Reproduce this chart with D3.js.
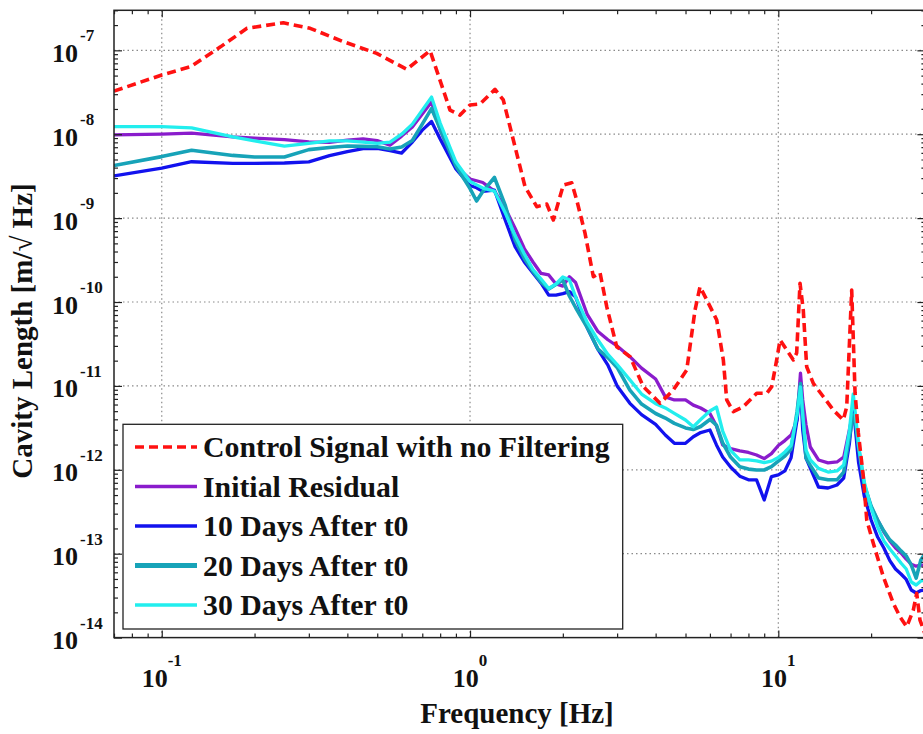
<!DOCTYPE html>
<html><head><meta charset="utf-8">
<script src="https://cdn.jsdelivr.net/npm/d3@7"></script>
<style>
body{margin:0;background:#fff;}
svg{display:block;}
text{font-family:"Liberation Serif","Times New Roman",serif;font-weight:bold;fill:#111;}
</style>
</head><body>
<svg id="chart" width="923" height="734"></svg>
<script>
// ---------- DATA ----------
const freq = [0.07, 0.1, 0.125, 0.17, 0.2, 0.25, 0.3, 0.35, 0.4, 0.45, 0.5, 0.55, 0.6, 0.65, 0.7, 0.75, 0.8, 0.9, 1.0, 1.05, 1.1, 1.2, 1.3, 1.4, 1.5, 1.6, 1.7, 1.8, 1.9, 2.0, 2.1, 2.2, 2.4, 2.6, 2.8, 3.0, 3.3, 3.6, 4.0, 4.3, 4.6, 5.0, 5.3, 5.6, 6.0, 6.3, 6.6, 7.0, 7.5, 8.0, 8.5, 9.0, 9.5, 10, 10.5, 11, 11.5, 11.8, 12.0, 12.3, 12.7, 13.5, 14.5, 15.5, 16.3, 17.0, 17.5, 17.8, 18.2, 19, 20, 21, 22, 23, 24, 25, 26, 27, 28, 29, 30];

const initialResidual = [9.8e-9, 1.0e-8, 1.03e-8, 9.3e-9, 9.0e-9, 8.6e-9, 8.1e-9, 8.0e-9, 8.5e-9, 8.8e-9,
  8.4e-9, 7.4e-9, 9.5e-9, 1.22e-8, 1.74e-8, 2.42e-8, 1.12e-8, 4.12e-9, 2.92e-9, 2.79e-9, 2.66e-9,
  2.10e-9, 1.32e-9, 7.6e-10, 4.34e-10, 3.0e-10, 2.19e-10, 2.10e-10, 1.64e-10, 1.55e-10, 2.0e-10,
  1.71e-10, 7.1e-11, 4.45e-11, 3.55e-11, 2.99e-11, 2.23e-11, 1.63e-11, 1.21e-11, 7.4e-12, 6.8e-12,
  6.8e-12, 5.9e-12, 5.45e-12, 4.7e-12, 3.33e-12, 1.98e-12, 1.79e-12, 1.68e-12, 1.61e-12, 1.50e-12,
  1.36e-12, 1.56e-12, 1.95e-12, 2.23e-12, 2.60e-12, 3.92e-12, 1.42e-11, 6.8e-12, 3.42e-12, 1.87e-12,
  1.31e-12, 1.21e-12, 1.24e-12, 1.42e-12, 2.98e-12, 5.16e-12, 3.42e-12, 1.72e-12, 6.6e-13, 3.6e-13,
  2.52e-13, 1.81e-13, 1.42e-13, 1.17e-13, 1.02e-13, 8.6e-14, 7.5e-14, 7.1e-14, 7.3e-14, 7.3e-14];

const days10 = [3.18e-9, 3.94e-9, 4.70e-9, 4.50e-9, 4.50e-9, 4.54e-9, 4.69e-9, 5.56e-9, 6.22e-9, 6.74e-9,
  6.76e-9, 6.36e-9, 5.97e-9, 8.07e-9, 1.12e-8, 1.42e-8, 8.77e-9, 3.85e-9, 2.45e-9, 2.30e-9, 2.08e-9,
  2.16e-9, 9.5e-10, 4.56e-10, 3.0e-10, 2.22e-10, 1.68e-10, 1.21e-10, 1.21e-10, 1.26e-10, 1.33e-10,
  1.15e-10, 4.94e-11, 2.72e-11, 1.77e-11, 1.0e-11, 6.2e-12, 4.54e-12, 3.47e-12, 2.60e-12, 2.07e-12,
  2.07e-12, 2.48e-12, 2.78e-12, 2.98e-12, 1.98e-12, 1.42e-12, 1.08e-12, 8.4e-13, 7.6e-13, 7.6e-13,
  4.37e-13, 8.3e-13, 8.7e-13, 9.7e-13, 1.39e-12, 3.92e-12, 9.7e-12, 2.98e-12, 1.38e-12, 1.05e-12,
  6.24e-13, 6.07e-13, 6.59e-13, 7.98e-13, 2.03e-12, 5.92e-12, 2.98e-12, 1.24e-12, 4.87e-13, 2.52e-13,
  1.58e-13, 1.17e-13, 8.26e-14, 6.57e-14, 5.73e-14, 4.93e-14, 3.69e-14, 3.40e-14, 3.64e-14, 3.69e-14];

const days20 = [4.24e-9, 5.41e-9, 6.45e-9, 5.59e-9, 5.35e-9, 5.35e-9, 6.55e-9, 6.96e-9, 7.23e-9, 7.16e-9,
  7.08e-9, 6.68e-9, 7.04e-9, 8.41e-9, 1.32e-8, 2.02e-8, 1.15e-8, 4.18e-9, 2.25e-9, 1.60e-9, 2.07e-9,
  3.05e-9, 1.43e-9, 5.48e-10, 3.30e-10, 2.31e-10, 1.73e-10, 1.43e-10, 1.62e-10, 1.83e-10, 1.18e-10,
  8.6e-11, 4.97e-11, 2.75e-11, 2.18e-11, 1.66e-11, 8.93e-12, 6.08e-12, 4.69e-12, 4.14e-12, 3.58e-12,
  3.16e-12, 3.02e-12, 3.28e-12, 3.98e-12, 3.42e-12, 2.09e-12, 1.42e-12, 1.09e-12, 1.02e-12, 9.95e-13,
  9.95e-13, 1.09e-12, 1.27e-12, 1.46e-12, 1.77e-12, 4.89e-12, 1.07e-11, 4.62e-12, 1.38e-12, 1.13e-12,
  7.98e-13, 7.6e-13, 7.6e-13, 9.4e-13, 2.46e-12, 4.5e-12, 3.71e-12, 1.87e-12, 6.6e-13, 3.70e-13,
  2.52e-13, 1.86e-13, 1.46e-13, 1.27e-13, 1.08e-13, 9.4e-14, 7.3e-14, 5.13e-14, 8.4e-14, 1.02e-13];

const days30 = [1.23e-8, 1.23e-8, 1.19e-8, 9.3e-9, 8.34e-9, 7.23e-9, 7.77e-9, 8.34e-9, 8.34e-9, 8.07e-9,
  7.78e-9, 8.07e-9, 1.0e-8, 1.32e-8, 1.94e-8, 2.77e-8, 1.36e-8, 4.66e-9, 2.73e-9, 2.49e-9, 2.28e-9,
  2.10e-9, 1.16e-9, 6.2e-10, 3.73e-10, 2.44e-10, 1.88e-10, 1.45e-10, 1.64e-10, 1.99e-10, 1.84e-10,
  1.15e-10, 5.7e-11, 3.52e-11, 2.37e-11, 1.80e-11, 1.18e-11, 8.0e-12, 6.15e-12, 5.47e-12, 4.7e-12,
  3.92e-12, 3.26e-12, 3.98e-12, 5.02e-12, 5.6e-12, 2.90e-12, 1.70e-12, 1.31e-12, 1.31e-12, 1.28e-12,
  1.22e-12, 1.27e-12, 1.40e-12, 1.63e-12, 1.95e-12, 4.5e-12, 9.7e-12, 4.5e-12, 1.72e-12, 1.31e-12,
  1.04e-12, 9.4e-13, 9.7e-13, 1.14e-12, 2.90e-12, 8.0e-12, 4.5e-12, 1.98e-12, 7.16e-13, 3.51e-13,
  2.08e-13, 1.42e-13, 1.14e-13, 9.4e-14, 7.75e-14, 6.57e-14, 4.6e-14, 4.24e-14, 4.73e-14, 4.86e-14];

const controlFreq = [0.07, 0.1, 0.124, 0.155, 0.189, 0.248, 0.303, 0.388, 0.498, 0.623,
  0.742, 0.861, 0.928, 1.0, 1.077, 1.205, 1.282, 1.382, 1.508, 1.646,
  1.774, 1.863, 2.007, 2.137, 2.219, 2.36, 2.512, 2.641, 2.776, 2.991,
  3.304, 3.649, 4.134, 4.564, 5.046, 5.369, 5.572, 5.86, 6.313, 6.632,
  6.802, 7.145, 7.7, 8.51, 9.17, 9.52, 9.88, 10.13, 10.65, 11.19,
  11.47, 11.76, 12.05, 12.36, 12.99, 14.0, 15.08, 16.25, 16.67, 17.3,
  17.74, 18.18, 18.87, 19.36, 20.33, 21.91, 23.61, 24.81, 26.09, 27.41,
  28.11, 28.81, 30];
const controlSignal = [3.27e-8, 5.08e-8, 6.38e-8, 1.10e-7, 1.83e-7, 2.13e-7, 1.83e-7, 1.27e-7, 9.2e-8, 5.94e-8,
  9.9e-8, 1.94e-8, 1.69e-8, 2.23e-8, 2.29e-8, 3.43e-8, 2.56e-8, 8.53e-9, 2.37e-9, 1.37e-9,
  1.47e-9, 9.5e-10, 2.48e-9, 2.64e-9, 1.64e-9, 6.64e-10, 2.0e-10, 2.22e-10, 8.8e-11, 2.93e-11,
  2.23e-11, 9.8e-12, 6.2e-12, 8.93e-12, 1.55e-11, 8.03e-11, 1.52e-10, 1.06e-10, 6.1e-11, 2.04e-11,
  6.8e-12, 4.93e-12, 5.65e-12, 8.16e-12, 8.16e-12, 9.8e-12, 2.04e-11, 3.52e-11, 2.68e-11, 2.04e-11,
  2.47e-11, 1.67e-10, 8.03e-11, 1.69e-11, 1.07e-11, 7.43e-12, 5.16e-12, 3.92e-12, 5.65e-12, 1.39e-10,
  8.23e-12, 2.75e-12, 8.27e-13, 2.52e-13, 1.33e-13, 5.32e-14, 2.56e-14, 1.77e-14, 1.35e-14, 2.13e-14,
  3.37e-14, 1.62e-14, 1.07e-14];

const xTickExps = [-1, 0, 1];
const yTickExps = [-14, -13, -12, -11, -10, -9, -8, -7];
const legendLabels = ["Control Signal with no Filtering", "Initial Residual", "10 Days After t0", "20 Days After t0", "30 Days After t0"];
const xTitle = "Frequency [Hz]";
const yTitle = "Cavity Length [m/\u221A Hz]";

// ---------- CHART ----------
const svg = d3.select("#chart");
const m = {left: 114, top: 10.3, right: 925.4, bottom: 637.6};
const x = d3.scaleLog().domain([0.07, 30]).range([m.left, m.right]);
const y = d3.scaleLog().domain([1e-14, 3e-7]).range([m.bottom, m.top]);

svg.append("defs").append("clipPath").attr("id", "clip")
  .append("rect").attr("x", m.left).attr("y", m.top)
  .attr("width", m.right - m.left).attr("height", m.bottom - m.top);

const isMajor = v => Math.abs(Math.log10(v) - Math.round(Math.log10(v))) < 1e-9;

// grid
const grid = svg.append("g").attr("stroke", "#8a8a8a").attr("stroke-width", 1.2)
  .attr("stroke-dasharray", "1.5,3");
xTickExps.forEach(e => {
  const xv = x(Math.pow(10, e));
  grid.append("line").attr("x1", xv).attr("x2", xv).attr("y1", m.top).attr("y2", m.bottom);
});
yTickExps.filter(e => e > -14).forEach(e => {
  const yv = y(Math.pow(10, e));
  grid.append("line").attr("x1", m.left).attr("x2", m.right).attr("y1", yv).attr("y2", yv);
});

// series
const series = [
  {name: legendLabels[1], f: freq, v: initialResidual, color: "#8a1ccc", w: 3.3, dash: null, lw: 3.5},
  {name: legendLabels[2], f: freq, v: days10, color: "#1212ee", w: 3.3, dash: null, lw: 3.5},
  {name: legendLabels[3], f: freq, v: days20, color: "#17a3b8", w: 3.6, dash: null, lw: 5},
  {name: legendLabels[4], f: freq, v: days30, color: "#22eeee", w: 3.3, dash: null, lw: 3.5},
  {name: legendLabels[0], f: controlFreq, v: controlSignal, color: "#ff1111", w: 3.6, dash: "9,5", lw: 3.5}
];
const line = d3.line().x(d => x(d[0])).y(d => y(d[1]));
const plot = svg.append("g").attr("clip-path", "url(#clip)");
series.forEach(s => {
  plot.append("path").datum(s.f.map((f, i) => [f, s.v[i]]))
    .attr("d", line).attr("fill", "none").attr("stroke", s.color)
    .attr("stroke-width", s.w).attr("stroke-linejoin", "round")
    .attr("stroke-dasharray", s.dash);
});

// axes ticks (inward on all four sides)
const xt = x.ticks(), yt = y.ticks();
const xMinor = xt.filter(v => !isMajor(v)), xMajor = xt.filter(isMajor);
const yMinor = yt.filter(v => !isMajor(v)), yMajor = yt.filter(isMajor);
function addAxis(axisFn, scale, vals, size, tr) {
  const g = svg.append("g").attr("transform", tr)
    .call(axisFn(scale).tickValues(vals).tickSize(size).tickFormat(""));
  g.select(".domain").remove();
  g.selectAll(".tick line").attr("stroke", "#222").attr("stroke-width", 1.2);
}
addAxis(d3.axisTop, x, xMinor, 4, `translate(0,${m.bottom})`);
addAxis(d3.axisTop, x, xMajor, 7, `translate(0,${m.bottom})`);
addAxis(d3.axisBottom, x, xMinor, 4, `translate(0,${m.top})`);
addAxis(d3.axisBottom, x, xMajor, 7, `translate(0,${m.top})`);
addAxis(d3.axisRight, y, yMinor, 4, `translate(${m.left},0)`);
addAxis(d3.axisRight, y, yMajor, 8, `translate(${m.left},0)`);
addAxis(d3.axisLeft, y, yMinor, 4, `translate(${m.right},0)`);
addAxis(d3.axisLeft, y, yMajor, 8, `translate(${m.right},0)`);

svg.append("rect").attr("x", m.left).attr("y", m.top)
  .attr("width", m.right - m.left).attr("height", m.bottom - m.top)
  .attr("fill", "none").attr("stroke", "#222").attr("stroke-width", 1.5);

// tick labels
yTickExps.forEach(e => {
  const yv = y(Math.pow(10, e));
  svg.append("text").attr("x", 78).attr("y", yv + 11.5).attr("text-anchor", "end")
    .attr("font-size", 26).text("10");
  svg.append("text").attr("x", 80).attr("y", yv - 9).attr("text-anchor", "start")
    .attr("font-size", 17).text("-" + Math.abs(e));
});
xTickExps.forEach(e => {
  const t = svg.append("text").attr("x", x(Math.pow(10, e))).attr("y", 686.7)
    .attr("text-anchor", "middle");
  t.append("tspan").attr("font-size", 26).text("10");
  t.append("tspan").attr("font-size", 17).attr("dy", -21).text(e < 0 ? "-" + Math.abs(e) : String(e));
});

// axis titles
svg.append("text").attr("x", 517).attr("y", 723).attr("text-anchor", "middle")
  .attr("font-size", 29).text(xTitle);
svg.append("text").attr("transform", "translate(32,331) rotate(-90)")
  .attr("text-anchor", "middle").attr("font-size", 29).text(yTitle);

// legend
const lg = svg.append("g");
lg.append("rect").attr("x", 123).attr("y", 424.3).attr("width", 499.7).attr("height", 204.7)
  .attr("fill", "#fff").attr("stroke", "#222").attr("stroke-width", 1.3);
const legendOrder = [series[4], series[0], series[1], series[2], series[3]];
const rowY = d3.scalePoint().domain(d3.range(5)).range([447, 605]);
legendOrder.forEach((s, i) => {
  const ry = rowY(i);
  lg.append("line").attr("x1", 135).attr("x2", 197).attr("y1", ry).attr("y2", ry)
    .attr("stroke", s.color).attr("stroke-width", s.lw).attr("stroke-dasharray", s.dash);
  lg.append("text").attr("x", 203).attr("y", ry + 10).attr("font-size", 29.8).text(s.name);
});
</script>
</body></html>
